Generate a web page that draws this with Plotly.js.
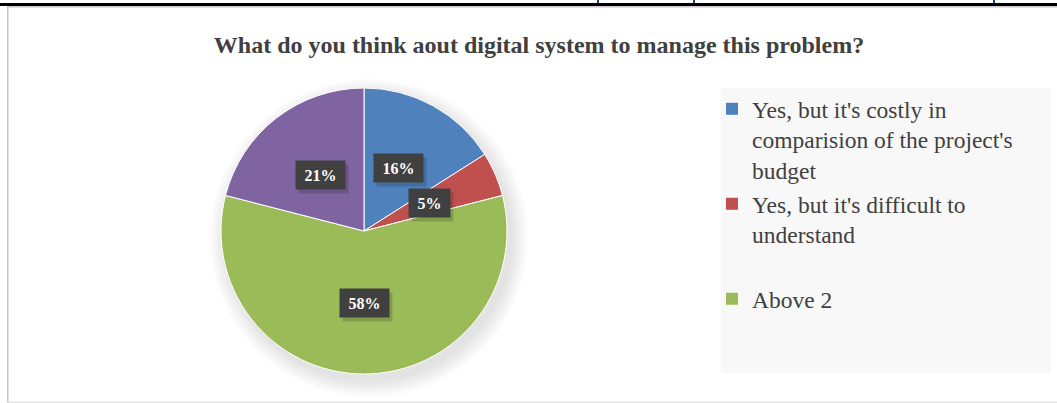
<!DOCTYPE html>
<html>
<head>
<meta charset="utf-8">
<script src="https://cdn.plot.ly/plotly-3.0.1.min.js"></script>
<style>
html,body{margin:0;padding:0;background:#fff;}
#chart{width:1057px;height:403px;}
</style>
</head>
<body>
<div id="chart"></div>
<script>
// ---- data ----
var categories = [
  "Yes, but it's costly in<br>comparision of the project's<br>budget",
  "Yes, but it's difficult to<br>understand",
  "Above 2",
  "Other"
];
var values = [16, 5, 58, 21];
var colors = ["#4f81bd", "#c0504d", "#9bbb59", "#8064a2"];
var legendShown = [true, true, true, false];
var titleText = "What do you think aout digital system to manage this problem?";

// ---- geometry (layout) ----
var W = 1057, H = 403;
var cx = 364, cy = 231, R = 143;

var traces = [];
traces.push({
  type: 'pie',
  labels: categories,
  values: values,
  sort: false,
  direction: 'clockwise',
  rotation: 0,
  marker: {colors: colors, line: {color: '#ffffff', width: 1}},
  textinfo: 'none',
  hoverinfo: 'label+percent',
  showlegend: false,
  domain: {x: [(cx - R) / W, (cx + R) / W], y: [1 - (cy + R) / H, 1 - (cy - R) / H]}
});

// legend entries built from the data arrays (one legend per entry so spacing matches)
var legendNames = ['legend', 'legend2', 'legend3'];
var layoutLegends = {};
var k = 0;
for (var i = 0; i < categories.length; i++) {
  if (!legendShown[i]) continue;
  var lname = legendNames[k];
  traces.push({
    type: 'scatter', mode: 'markers', x: [null], y: [null],
    name: categories[i],
    marker: {symbol: 'square', size: 12, color: colors[i], line: {width: 0}},
    showlegend: true, legend: lname, hoverinfo: 'skip'
  });
  layoutLegends[lname] = {
    x: 712 / W, xanchor: 'left',
    y: 1 - (87 + 95 * k) / H, yanchor: 'top',
    bgcolor: 'rgba(0,0,0,0)', borderwidth: 0,
    valign: 'top',
    font: {family: 'Liberation Serif, Times New Roman, serif', size: 23.5, color: '#404040'},
    itemclick: false, itemdoubleclick: false
  };
  k++;
}

// total for percentages
var total = values.reduce(function (a, b) { return a + b; }, 0);
var annotations = [];
var cum = 0;
for (var j = 0; j < values.length; j++) {
  var frac = values[j] / total;
  var mid = (cum + frac / 2) * 2 * Math.PI;
  cum += frac;
  var px = cx + 0.5 * R * Math.sin(mid);
  var py = cy - 0.5 * R * Math.cos(mid);
  var txt = Math.round(frac * 100) + '%';
  // shadow box (no text)
  annotations.push({
    xref: 'paper', yref: 'paper', x: px / W, y: 1 - py / H,
    xanchor: 'center', yanchor: 'middle', showarrow: false,
    text: '\u00a0', xshift: 3, yshift: -4,
    font: {family: 'Liberation Serif, serif', size: 16, color: 'rgba(0,0,0,0)'},
    bgcolor: 'rgba(0,0,0,0.16)', borderpad: 4, width: 8 * txt.length + 17, height: 20
  });
  annotations.push({
    xref: 'paper', yref: 'paper', x: px / W, y: 1 - py / H,
    xanchor: 'center', yanchor: 'middle', showarrow: false,
    text: '<b>' + txt + '</b>',
    font: {family: 'Liberation Serif, serif', size: 16, color: '#ffffff'},
    bgcolor: '#404040', borderpad: 4, width: 8 * txt.length + 17, height: 20
  });
}

// decorative shapes: frame, legend background, pie shadow
var shapes = [];
// pie soft shadow
for (var s = 0; s < 7; s++) {
  var rr = R + 1 + s * 2.5;
  var ox = cx + 5, oy = cy + 7;
  shapes.push({type: 'circle', xref: 'paper', yref: 'paper', layer: 'below',
    x0: (ox - rr) / W, x1: (ox + rr) / W, y0: 1 - (oy + rr) / H, y1: 1 - (oy - rr) / H,
    fillcolor: 'rgba(0,0,0,0.016)', line: {width: 0}});
}
// legend background
shapes.push({type: 'rect', xref: 'paper', yref: 'paper', layer: 'below',
  x0: 721 / W, x1: 1051 / W, y0: 1 - 373 / H, y1: 1 - 88 / H,
  fillcolor: '#f8f8f8', line: {width: 0}});
// top black rule
shapes.push({type: 'rect', xref: 'paper', yref: 'paper', layer: 'above',
  x0: 0, x1: 1, y0: 1 - 6 / H, y1: 1 - 3 / H, fillcolor: '#000000', line: {width: 0}});
// gray line under it
shapes.push({type: 'rect', xref: 'paper', yref: 'paper', layer: 'above',
  x0: 7 / W, x1: 1, y0: 1 - 7.5 / H, y1: 1 - 6 / H, fillcolor: '#c8c8c8', line: {width: 0}});
// left frame line
shapes.push({type: 'rect', xref: 'paper', yref: 'paper', layer: 'above',
  x0: 7 / W, x1: 8.5 / W, y0: 0, y1: 1 - 6 / H, fillcolor: '#c4c4c4', line: {width: 0}});
// bottom frame line
shapes.push({type: 'rect', xref: 'paper', yref: 'paper', layer: 'above',
  x0: 7 / W, x1: 1, y0: 0, y1: 1.5 / H, fillcolor: '#e6e6e6', line: {width: 0}});
// tiny blue descenders of text above (cut off)
[597, 693, 993].forEach(function (bx) {
  shapes.push({type: 'rect', xref: 'paper', yref: 'paper', layer: 'above',
    x0: bx / W, x1: (bx + 2) / W, y0: 1 - 3 / H, y1: 1, fillcolor: '#1f3f7a', line: {width: 0}});
});

var layout = {
  width: W, height: H,
  margin: {l: 0, r: 0, t: 0, b: 0},
  paper_bgcolor: '#ffffff', plot_bgcolor: '#ffffff',
  title: {text: '<b>' + titleText + '</b>', x: 539 / W, xanchor: 'center', y: 1 - 45 / H, yanchor: 'middle',
    font: {family: 'Liberation Serif, Times New Roman, serif', size: 24, color: '#404040'}},
  xaxis: {visible: false, showgrid: false, zeroline: false},
  yaxis: {visible: false, showgrid: false, zeroline: false},
  annotations: annotations,
  shapes: shapes,
  showlegend: true
};
for (var key in layoutLegends) layout[key] = layoutLegends[key];

Plotly.newPlot('chart', traces, layout, {displayModeBar: false, staticPlot: true});
</script>
</body>
</html>
